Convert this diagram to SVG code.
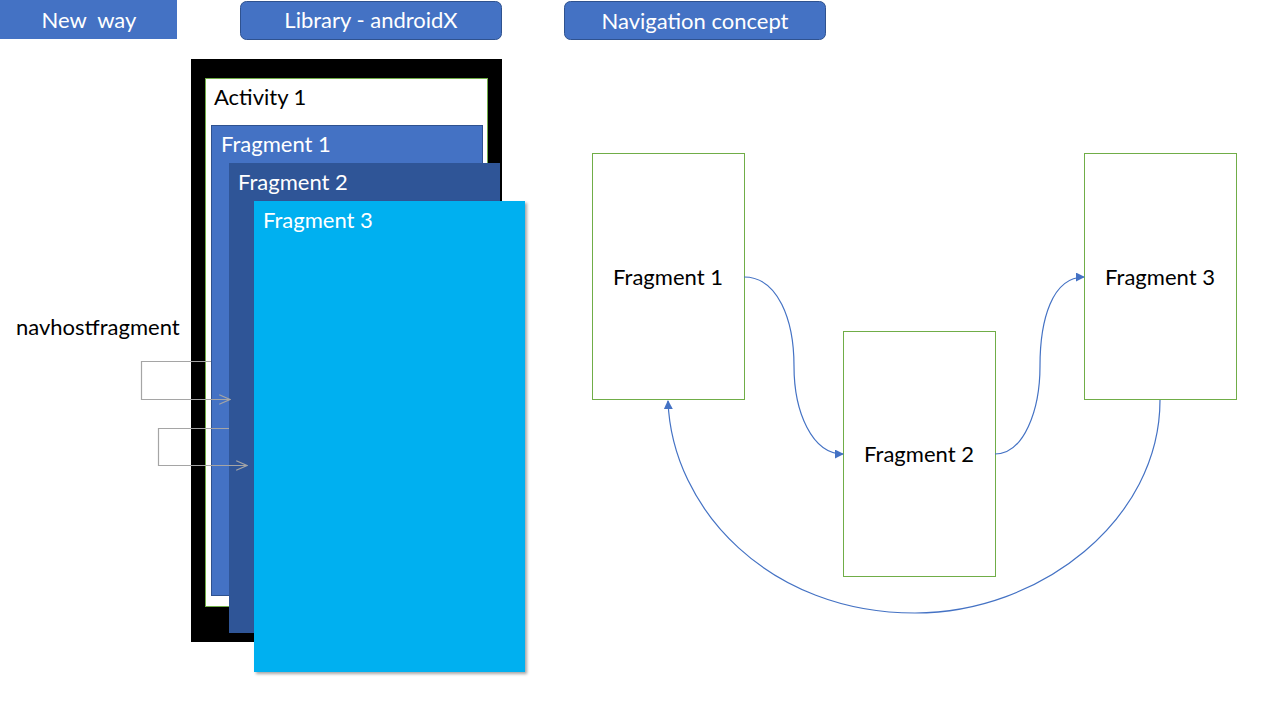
<svg xmlns="http://www.w3.org/2000/svg" width="1280" height="720" viewBox="0 0 1280 720">
<style>
  text { font-family: Lato, "Liberation Sans", sans-serif; }
  .hdr { fill: #4472C4; stroke: #2F528F; stroke-width: 1; }
  .hdrt { fill: #FFFFFF; font-size: 22px; text-anchor: middle; dominant-baseline: central; }
  .lbl { fill: #000000; font-size: 22px; }
  .wl { fill: #FFFFFF; font-size: 22px; }
  .node { fill: #FFFFFF; stroke: #70AD47; stroke-width: 1; }
  .nt { fill: #000000; font-size: 22px; text-anchor: middle; dominant-baseline: central; }
  .blue { fill: none; stroke: #4472C4; stroke-width: 1.2; }
  .gray { fill: none; stroke: #A5A5A5; stroke-width: 1.2; }
</style>
<defs>
  <marker id="ab" viewBox="0 0 10 10" refX="9" refY="5" markerWidth="9" markerHeight="9" markerUnits="userSpaceOnUse" orient="auto">
    <path d="M0,0 L10,5 L0,10 Z" fill="#4472C4"/>
  </marker>
  <marker id="ag" viewBox="0 0 10 10" refX="9" refY="5" markerWidth="12" markerHeight="12" markerUnits="userSpaceOnUse" orient="auto">
    <path d="M0,1 L9,5 L0,9" fill="none" stroke="#A5A5A5" stroke-width="1"/>
  </marker>
  <filter id="sh" x="-5%" y="-5%" width="115%" height="115%">
    <feDropShadow dx="2" dy="2" stdDeviation="1.5" flood-color="#000" flood-opacity="0.35"/>
  </filter>
</defs>
<rect width="1280" height="720" fill="#FFFFFF"/>

<g id="hdr-newway">
  <rect x="0" y="0" width="177" height="39" fill="#4472C4"/>
  <text class="hdrt" x="89" y="19" xml:space="preserve">New  way</text>
</g>
<g id="hdr-library">
  <rect class="hdr" x="240.5" y="1.5" width="261" height="38" rx="6"/>
  <text class="hdrt" x="371" y="19">Library - androidX</text>
</g>
<g id="hdr-nav">
  <rect class="hdr" x="564.5" y="1.5" width="261" height="38" rx="6"/>
  <text class="hdrt" x="695" y="20">Navigation concept</text>
</g>

<g id="frame">
  <rect x="191" y="59" width="311" height="583" fill="#000000"/>
</g>
<g id="activity1">
  <rect x="205.5" y="78.5" width="282" height="528" fill="#FFFFFF" stroke="#70AD47" stroke-width="1"/>
  <text class="lbl" x="214" y="105">Activity 1</text>
</g>
<g id="stack-fragment1">
  <rect x="211.5" y="125.5" width="271" height="470" fill="#4472C4" stroke="#2F528F" stroke-width="1"/>
  <text class="wl" x="221" y="152">Fragment 1</text>
</g>
<g id="stack-fragment2">
  <rect x="229" y="163" width="271" height="470" fill="#2F5597"/>
  <text class="wl" x="238" y="190">Fragment 2</text>
</g>
<g id="stack-fragment3">
  <rect x="254" y="201" width="271" height="471" fill="#00B0F0" filter="url(#sh)"/>
  <text class="wl" x="263" y="228" fill="#EAF6FF">Fragment 3</text>
</g>
<g id="navhost">
  <text class="lbl" x="16" y="335">navhostfragment</text>
</g>

<g id="nav-fragment1">
  <rect class="node" x="592.5" y="153.5" width="152" height="246"/>
  <text class="nt" x="668" y="276">Fragment 1</text>
</g>
<g id="nav-fragment2">
  <rect class="node" x="843.5" y="331.5" width="152" height="245"/>
  <text class="nt" x="919" y="453">Fragment 2</text>
</g>
<g id="nav-fragment3">
  <rect class="node" x="1084.5" y="153.5" width="152" height="246"/>
  <text class="nt" x="1160" y="276">Fragment 3</text>
</g>

<g id="connectors">
  <path class="gray" d="M211,361.5 H141.5 V399.5 H230" marker-end="url(#ag)"/>
  <path class="gray" d="M229,428.5 H158.5 V465.5 H247" marker-end="url(#ag)"/>
  <path class="blue" d="M744,277 C778,277 794,320 794,366 C794,412 812,454 843,454" marker-end="url(#ab)"/>
  <path class="blue" d="M995,454 C1024,454 1040,410 1040,366 C1040,320 1052,277 1084,277" marker-end="url(#ab)"/>
  <path class="blue" d="M1160,400 C1160,520 1040,613 915,613 C770,613 672,510 668,401" marker-end="url(#ab)"/>
</g>
</svg>
